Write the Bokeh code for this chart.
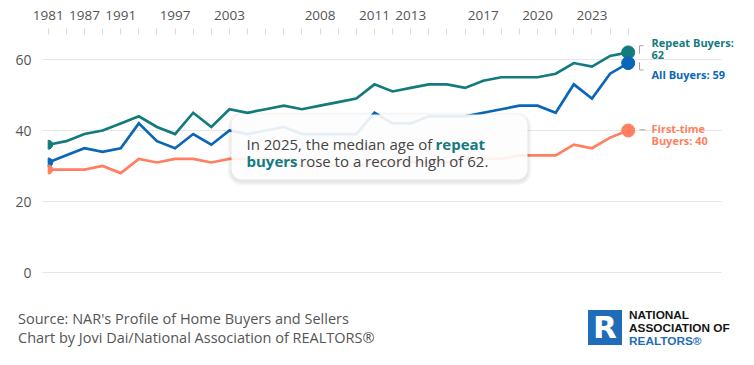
from math import pi
from bokeh.plotting import figure
from bokeh.models import Range1d, FixedTicker, BoxAnnotation, Label, Div
from bokeh.layouts import column
from bokeh.core.properties import value
from bokeh.embed import file_html
from bokeh.resources import INLINE

# ---------------- data ----------------
years = [1981, 1985, 1987, 1989, 1991, 1993, 1995, 1997, 1999, 2001, 2003, 2004, 2005,
         2006, 2007, 2008, 2009, 2010, 2011, 2012, 2013, 2014, 2015, 2016, 2017, 2018,
         2019, 2020, 2021, 2022, 2023, 2024, 2025]
labeled_years = [1981, 1987, 1991, 1997, 2003, 2008, 2011, 2013, 2017, 2020, 2023]
repeat_buyers = [36, 37, 39, 40, 42, 44, 41, 39, 45, 41, 46, 45, 46, 47, 46, 47, 48, 49,
                 53, 51, 52, 53, 53, 52, 54, 55, 55, 55, 56, 59, 58, 61, 62]
all_buyers = [31, 33, 35, 34, 35, 42, 37, 35, 39, 36, 40, 39, 40, 41, 39, 39, 39, 39,
              45, 42, 42, 44, 44, 44, 45, 46, 47, 47, 45, 53, 49, 56, 59]
first_time_buyers = [29, 29, 29, 30, 28, 32, 31, 32, 32, 31, 32, 32, 32, 32, 30, 30, 30, 30,
                     31, 31, 31, 31, 31, 32, 32, 32, 33, 33, 33, 36, 35, 38, 40]
y_ticks = [0, 20, 40, 60]

TEAL = "#137b7e"
BLUE = "#0a67b7"
ORANGE = "#ff7f60"
GRAY_TXT = "#555555"
FONT = "Open Sans"

idx = list(range(len(years)))
last = idx[-1]

# ---------------- geometry (page pixels) ----------------
X0, DX = 47.7, 18.125   # page x of first point, px per survey
Y0, DY = 272.0, 3.55    # page y of value 0, px per year of age
W, H = 754, 280
FL, FR, FT, FB = 42, 740, 34, 276


def dx(px):
    return px / DX


def dy(px):
    return px / DY


def xd(page_x):
    return (page_x - X0) / DX


def yd(page_y):
    return (Y0 - page_y) / DY


p = figure(width=W, height=H,
           min_border_left=FL, min_border_right=W - FR, min_border_top=FT,
           min_border_bottom=H - FB,
           x_range=Range1d(xd(FL), xd(FR)), y_range=Range1d(yd(FB), yd(FT)),
           x_axis_location="above", output_backend="svg", toolbar_location=None)
p.outline_line_color = None
p.xgrid.visible = False
p.ygrid.visible = False

# top axis
xa = p.xaxis[0]
xa.ticker = FixedTicker(ticks=idx)
xa.major_label_overrides = {i: (str(y) if y in labeled_years else "") for i, y in zip(idx, years)}
xa.axis_line_color = None
xa.major_tick_line_color = "#d9d9d9"
xa.major_tick_in = 0
xa.major_tick_out = 6
xa.minor_tick_line_color = None
xa.major_label_text_font = FONT
xa.major_label_text_font_size = "13.5px"
xa.major_label_text_color = GRAY_TXT
xa.major_label_standoff = 9

ya = p.yaxis[0]
ya.ticker = FixedTicker(ticks=y_ticks)
ya.axis_line_color = None
ya.major_tick_line_color = None
ya.minor_tick_line_color = None
ya.major_label_text_font = FONT
ya.major_label_text_font_size = "14px"
ya.major_label_text_color = GRAY_TXT
ya.major_label_standoff = 5

# grid lines (stop before the end labels)
p.segment(x0=[xd(FL)] * len(y_ticks), x1=[xd(721)] * len(y_ticks), y0=y_ticks, y1=y_ticks,
          line_color="#e6e6e6", line_width=1)

series = [(repeat_buyers, TEAL), (all_buyers, BLUE), (first_time_buyers, ORANGE)]
for vals, col in series:
    p.line(idx, vals, line_color=col, line_width=2.7, line_join="miter")
    p.wedge(x=[idx[0]], y=[vals[0]], radius=4.5, radius_units="screen",
            start_angle=-pi / 2, end_angle=pi / 2, color=col)
    p.scatter(x=[last], y=[vals[-1]], size=13, color=col)

# connectors to end labels
xc1 = last + dx(11.3)
xc2 = last + dx(15.3)
r, a, f = repeat_buyers[-1], all_buyers[-1], first_time_buyers[-1]
p.multi_line(xs=[[xc1, xc1, xc2], [xc1, xc1, xc2], [xc1, last + dx(17.3)]],
             ys=[[r - dy(1.3), r + dy(6.7), r + dy(6.7)],
                 [a + dy(0.6), a - dy(6.9), a - dy(6.9)],
                 [f + dy(0.7), f + dy(0.7)]],
             line_color="#a6a6a6", line_width=1)

xl = last + dx(23.3)
end_texts = ["Repeat Buyers:", f"{r}", f"All Buyers: {a}", "First-time", f"Buyers: {f}"]
end_y = [r + dy(10.0), r - dy(2.6), a - dy(11.4), f + dy(2.5), f - dy(10.3)]
end_cols = [TEAL, TEAL, BLUE, ORANGE, ORANGE]
p.text(x=[xl] * 5, y=end_y, text=end_texts, text_color=end_cols,
       text_font=value(FONT), text_font_style="bold", text_font_size="11px",
       text_baseline="alphabetic", text_align="left")

# annotation callout
for k in range(1, 5):
    p.add_layout(BoxAnnotation(left=xd(231 - k), right=xd(527 + k),
                               top=yd(114 - k + 2), bottom=yd(179 + k + 2),
                               fill_color="black", fill_alpha=0.022, line_color=None,
                               border_radius=10 + k))
p.add_layout(BoxAnnotation(left=xd(231), right=xd(527), top=yd(114), bottom=yd(179),
                           fill_color="white", fill_alpha=0.9, line_color=None,
                           border_radius=10))
note_parts = [
    (f"In {years[-1]}, the median age of ", 246, 143.5, "normal", "#444444"),
    ("repeat", 435, 143.5, "bold", TEAL),
    ("buyers", 246, 160.5, "bold", TEAL),
    (f"rose to a record high of {repeat_buyers[-1]}.", 299.5, 160.5, "normal", "#444444"),
]
for txt, px_, py_, style, col in note_parts:
    p.add_layout(Label(x=xd(px_), y=yd(py_), text=txt, text_font=FONT,
                       text_font_size="15px", text_font_style=style, text_color=col,
                       text_baseline="alphabetic", text_align="left"))

# ---------------- footer ----------------
FOOT_H = 365 - H
ft = H  # page y of footer top
footer_html = f"""
<div style="position:relative;width:{W}px;height:{FOOT_H}px;font-family:'Open Sans',sans-serif;">
  <div style="position:absolute;left:18px;top:{308.5 - ft}px;font-size:14.5px;line-height:19px;color:{GRAY_TXT};white-space:nowrap;">
    Source: NAR's Profile of Home Buyers and Sellers<br>Chart by Jovi Dai/National Association of REALTORS®
  </div>
  <div style="position:absolute;left:588px;top:{310 - ft}px;width:34px;height:35px;background:#1f6cb9;color:white;
              font-family:'DejaVu Sans',sans-serif;font-weight:bold;font-size:31px;line-height:35px;text-align:center;">R</div>
  <div style="position:absolute;left:629px;top:{308.8 - ft}px;font-family:'Liberation Sans',sans-serif;font-size:11.8px;line-height:13.2px;font-weight:bold;color:#151515;white-space:nowrap;">
    NATIONAL<br>ASSOCIATION OF<br><span style="color:#1f6cb9;">REALTORS®</span>
  </div>
</div>
"""
foot = Div(text=footer_html, width=W, height=FOOT_H, margin=0)

layout = column(p, foot, spacing=0)
open("out.html", "w").write(file_html(layout, INLINE))
